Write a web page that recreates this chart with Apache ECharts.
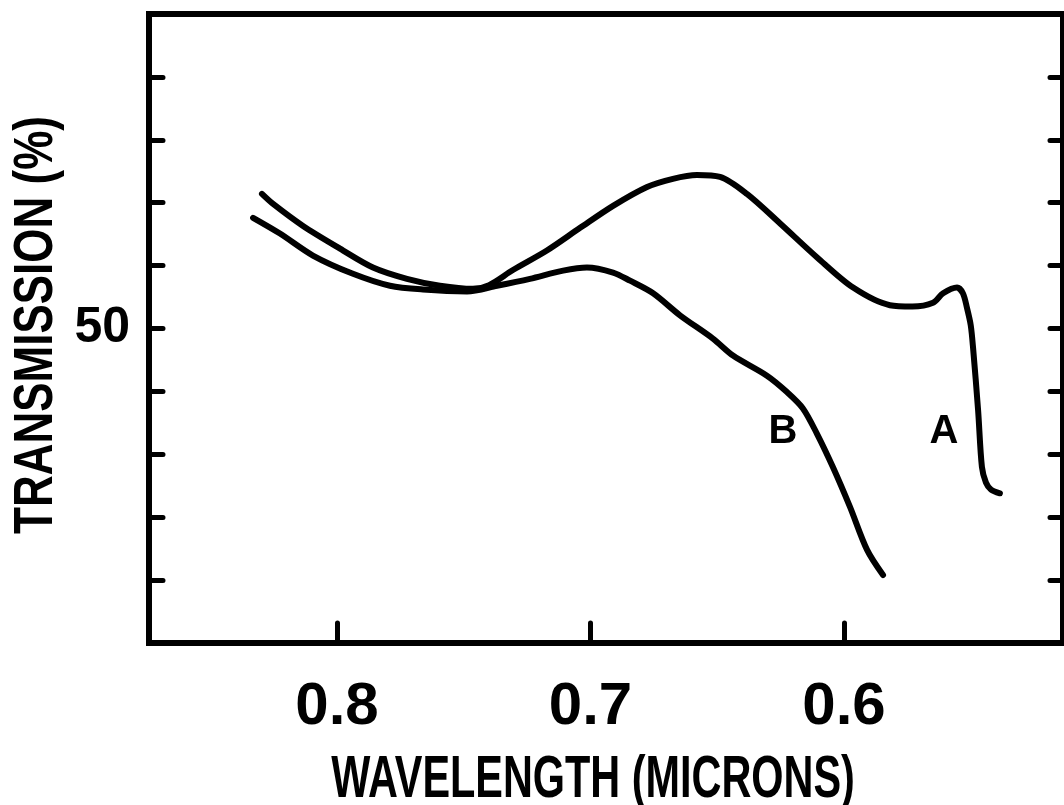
<!DOCTYPE html>
<html>
<head>
<meta charset="utf-8">
<script src="https://cdn.jsdelivr.net/npm/echarts@6/dist/echarts.min.js"></script>
<style>
html,body{margin:0;padding:0;background:#fff;}
#chart{width:1064px;height:805px;}
</style>
</head>
<body>
<div id="chart"></div>
<script>
// ---- data ----
const wavelengthA = [0.8296, 0.8252, 0.8134, 0.7988, 0.7858, 0.7724, 0.7594, 0.7464, 0.7400, 0.7306, 0.7172, 0.7041, 0.6911, 0.6777, 0.6675, 0.6580, 0.6489, 0.6383, 0.6252, 0.6106, 0.5964, 0.5819, 0.5730, 0.5649, 0.5609, 0.5554, 0.5531, 0.5515, 0.5500, 0.5491, 0.5471, 0.5456, 0.5440, 0.5420, 0.5385];
const transmissionA = [71.4, 69.8, 66.3, 62.7, 59.7, 57.9, 56.8, 56.3, 56.9, 59.3, 62.4, 66.0, 69.5, 72.5, 73.8, 74.4, 74.1, 71.4, 66.7, 61.3, 56.5, 53.7, 53.5, 54.1, 55.6, 56.5, 55.6, 53.3, 50.5, 47.0, 37.0, 28.0, 25.5, 24.4, 23.8];

const wavelengthB = [0.8331, 0.8225, 0.8095, 0.7937, 0.7791, 0.7661, 0.7487, 0.7369, 0.7239, 0.7108, 0.7014, 0.6911, 0.6844, 0.6753, 0.6647, 0.6517, 0.6438, 0.6304, 0.6225, 0.6162, 0.6107, 0.6043, 0.5976, 0.5909, 0.5846];
const transmissionB = [67.6, 65.1, 61.6, 58.7, 56.8, 56.2, 55.9, 56.8, 57.9, 59.2, 59.7, 58.9, 57.6, 55.6, 52.1, 48.4, 45.7, 42.5, 39.9, 37.3, 33.3, 27.9, 21.6, 14.8, 10.8];

const xTickValues = [0.6, 0.7, 0.8];
const yTickValues = [10, 20, 30, 40, 50, 60, 70, 80, 90];
const yLabelValues = [50];

const curveNames = ['A', 'B'];
const curveLabelX = [0.5606, 0.6241];
const curveLabelY = [33.5, 33.5];

const xTitle = 'WAVELENGTH (MICRONS)';
const yTitle = 'TRANSMISSION (%)';

// ---- chart ----
const FONT = "'Liberation Sans', Arial, sans-serif";
const chart = echarts.init(document.getElementById('chart'), null, {renderer: 'canvas'});

function pairs(xs, ys) { return xs.map((x, i) => [x, ys[i]]); }

function curveSeries(name, xs, ys, idx) {
  return {
    name: name,
    type: 'line',
    data: pairs(xs, ys),
    smooth: 0.3,
    symbol: 'none',
    lineStyle: {color: '#000', width: 6, cap: 'round', join: 'round'},
    silent: true,
    markPoint: {
      symbol: 'circle',
      symbolSize: 1,
      itemStyle: {color: 'rgba(0,0,0,0)'},
      label: {
        show: true, position: 'inside', formatter: name,
        fontFamily: FONT, fontWeight: 'bold', fontSize: 40, color: '#000'
      },
      data: [{coord: [curveLabelX[idx], curveLabelY[idx]]}]
    }
  };
}

const option = {
  backgroundColor: '#fff',
  animation: false,
  grid: {
    left: 149, right: 1, top: 14, bottom: 162,
    show: true, borderColor: '#000', borderWidth: 6, backgroundColor: 'rgba(0,0,0,0)'
  },
  xAxis: {
    type: 'value',
    inverse: true,
    min: 0.51361, max: 0.87416,
    splitLine: {show: false},
    axisLine: {show: true, lineStyle: {color: '#000', width: 6}},
    axisTick: {
      show: true, inside: true, length: 20, customValues: xTickValues,
      lineStyle: {color: '#000', width: 5, cap: 'round'}
    },
    axisLabel: {
      show: true, customValues: xTickValues, margin: 34,
      formatter: v => v.toFixed(1),
      fontFamily: FONT, fontWeight: 'bold', fontSize: 60, color: '#000'
    }
  },
  yAxis: [{
    type: 'value', position: 'left',
    min: 0, max: 100,
    splitLine: {show: false},
    axisLine: {show: true, lineStyle: {color: '#000', width: 6}},
    axisTick: {
      show: true, inside: true, length: 14, customValues: yTickValues,
      lineStyle: {color: '#000', width: 5, cap: 'round'}
    },
    axisLabel: {
      show: true, customValues: yLabelValues, margin: 19,
      fontFamily: FONT, fontWeight: 'bold', fontSize: 50, color: '#000'
    }
  }, {
    type: 'value', position: 'right',
    min: 0, max: 100,
    splitLine: {show: false},
    axisLine: {show: true, lineStyle: {color: '#000', width: 6}},
    axisTick: {
      show: true, inside: true, length: 13, customValues: yTickValues,
      lineStyle: {color: '#000', width: 5, cap: 'round'}
    },
    axisLabel: {show: false}
  }],
  graphic: [{
    type: 'text',
    x: 593, y: 780,
    scaleX: 0.69,
    style: {
      text: xTitle, font: "bold 60px 'Liberation Sans', Arial, sans-serif",
      fill: '#000', textAlign: 'center', textVerticalAlign: 'middle'
    }
  }, {
    type: 'text',
    x: 37, y: 325,
    rotation: Math.PI / 2,
    scaleX: 0.8,
    style: {
      text: yTitle, font: "bold 55px 'Liberation Sans', Arial, sans-serif",
      fill: '#000', textAlign: 'center', textVerticalAlign: 'middle'
    }
  }],
  series: [
    curveSeries(curveNames[0], wavelengthA, transmissionA, 0),
    curveSeries(curveNames[1], wavelengthB, transmissionB, 1)
  ]
};
chart.setOption(option);
</script>
</body>
</html>
